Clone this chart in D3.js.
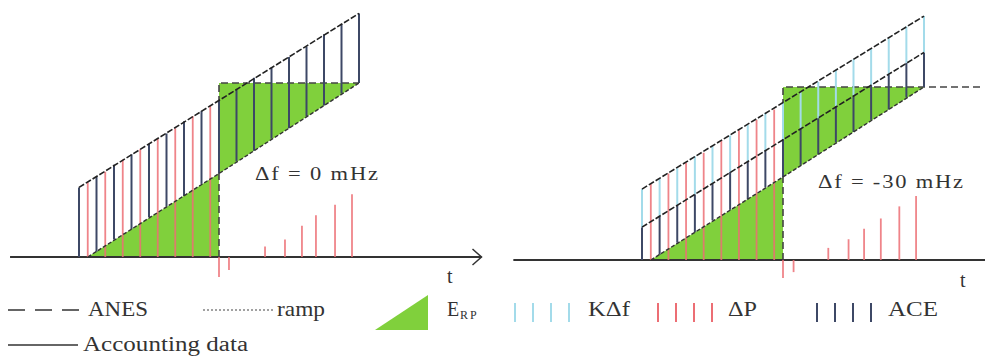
<!DOCTYPE html>
<html>
<head>
<meta charset="utf-8">
<script src="https://cdn.jsdelivr.net/npm/d3@7"></script>
<style>
  html, body { margin: 0; padding: 0; background: #fff; }
  svg { display: block; }
  text { font-family: 'Liberation Serif', Times, serif; fill: #333; }
</style>
</head>
<body>
<div id="chart"></div>
<script>
// accounting intervals (one ACE bar per slot), same for both panels
const slots = [0, 1, 2, 3, 4, 5, 6, 7, 8, 9, 10, 11, 12, 13, 14, 15, 16];
const stepT = 8;          // ANES changes here
const anesLevel = 100;

// ramp: start, step, end
const rampT = [0.5, 8, 16];
const rampV = [0, 48, 100];

// left panel, Δf = 0 mHz
const aceTopL = [40, 46, 53, 59, 65, 71, 78, 84, 90, 96, 103, 109, 115, 121, 128, 134, 140];
const aceBotL = [0, 3, 10, 16, 23, 29, 35, 42, 48, 55, 61, 68, 74, 81, 87, 94, 100];
const dpTL = [0.5, 1.5, 2.5, 3.5, 4.5, 5.5, 6.5, 7.5, 8, 8.57, 10.63, 11.77, 12.74, 13.54, 14.63, 15.6];
const dpVL = [43, 49, 56, 62, 68, 74, 81, 87, -11.5, -7.5, 6, 10, 18, 24, 30, 36];

// right panel, Δf = -30 mHz
const kdfTopR = [41, 47, 53, 60, 66, 72, 78, 85, 91, 97, 103, 110, 116, 122, 128, 135, 141];
const aceTopR = [19, 25, 32, 38, 44, 51, 57, 63, 70, 76, 82, 89, 95, 101, 107, 114, 120];
const aceBotR = [0, 3, 10, 16, 23, 29, 35, 42, 48, 55, 61, 68, 74, 81, 87, 94, 100];
const dpTR = [0.5, 1.5, 2.5, 3.5, 4.5, 5.5, 6.5, 7.5, 8, 8.6, 10.57, 11.72, 12.6, 13.55, 14.6, 15.55];
const dpVR = [44, 50, 56, 62, 69, 75, 81, 87, -10.4, -7, 7, 12, 18, 24, 31, 37];

const deltaFLabels = ["\u0394f =  0 mHz", "\u0394f =  -30 mHz"];
const legendLabels = ["ANES", "ramp", "E", "K\u0394f", "\u0394P", "ACE", "Accounting data"];

const colors = { green: "#80d03c", ace: "#3d4866", dp: "#ec6e74", kdf: "#a3dbea", line: "#222" };

const width = 985, height = 356;
const svg = d3.select("#chart").append("svg")
  .attr("width", width)
  .attr("height", height);

// the source text is stretched sideways: widen glyphs a bit, spread the rest
function fitText(parent, s, x0, y0, size, target) {
  const t = parent.append("text")
    .attr("x", 0).attr("y", 0)
    .attr("font-size", size)
    .text(s);
  const w0 = t.node().getComputedTextLength();
  const sx = Math.min(1.25, target / w0);
  t.attr("textLength", target / sx).attr("lengthAdjust", "spacing")
    .attr("transform", `translate(${x0},${y0}) scale(${sx},1)`);
  return t;
}

function drawPanel(p) {
  const x = d3.scaleLinear().domain([0, 16]).range(p.xRange);
  const y = d3.scaleLinear().domain([0, 100]).range(p.yRange);
  const g = svg.append("g");

  // E_RP : area between ramp and ANES
  const area = d3.area().x(d => x(d[0])).y0(d => y(d[1])).y1(d => y(d[2]));
  g.append("path")
    .attr("d", area([[rampT[0], 0, rampV[0]], [rampT[1], 0, rampV[1]]]))
    .attr("fill", colors.green);
  g.append("path")
    .attr("d", area([[rampT[1], rampV[1], anesLevel], [rampT[2], rampV[2], anesLevel]]))
    .attr("fill", colors.green);

  // baseline
  g.append("line")
    .attr("x1", x(p.base[0])).attr("x2", x(p.base[1]))
    .attr("y1", y(0)).attr("y2", y(0))
    .attr("stroke", "#333").attr("stroke-width", 2);
  if (p.arrow) {
    const ax = x(p.base[1]);
    g.append("path")
      .attr("d", `M${ax - 9},${y(0) - 8}L${ax},${y(0)}L${ax - 9},${y(0) + 8}`)
      .attr("fill", "none").attr("stroke", "#333").attr("stroke-width", 1.5);
  }

  // ANES
  const line = d3.line().x(d => x(d[0])).y(d => y(d[1]));
  g.append("path")
    .attr("d", line([[stepT, 0], [stepT, anesLevel], [p.anesEnd, anesLevel]]))
    .attr("fill", "none").attr("stroke", "#444").attr("stroke-width", 1.6)
    .attr("stroke-dasharray", "7,4");

  // ACE bars
  g.selectAll(".ace").data(slots).enter().append("line")
    .attr("x1", t => x(t)).attr("x2", t => x(t))
    .attr("y1", (t, i) => y(p.aceBot[i]))
    .attr("y2", (t, i) => y(p.aceTop[i]))
    .attr("stroke", colors.ace).attr("stroke-width", 2);

  // KΔf bars
  if (p.kdfTop) {
    g.selectAll(".kdf").data(slots).enter().append("line")
      .attr("x1", t => x(t)).attr("x2", t => x(t))
      .attr("y1", (t, i) => y(p.aceTop[i]))
      .attr("y2", (t, i) => y(p.kdfTop[i]))
      .attr("stroke", colors.kdf).attr("stroke-width", 2);
  }

  // ΔP bars
  g.selectAll(".dp").data(p.dpT).enter().append("line")
    .attr("x1", t => x(t)).attr("x2", t => x(t))
    .attr("y1", y(0))
    .attr("y2", (t, i) => y(p.dpV[i]))
    .attr("stroke", colors.dp).attr("stroke-width", 1.8)
    .attr("stroke-opacity", 0.85);

  // ramp
  g.append("path")
    .attr("d", line(rampT.map((t, i) => [t, rampV[i]])))
    .attr("fill", "none").attr("stroke", "#333").attr("stroke-width", 1.4)
    .attr("stroke-dasharray", "4,2");

  // upper envelopes
  const tops = p.kdfTop ? [p.aceTop, p.kdfTop] : [p.aceTop];
  tops.forEach(v => {
    g.append("path")
      .attr("d", line([[slots[0], v[0]], [slots[slots.length - 1], v[v.length - 1]]]))
      .attr("fill", "none").attr("stroke", colors.line).attr("stroke-width", 1.6)
      .attr("stroke-dasharray", "6,2");
  });

  fitText(g, p.text, p.label[0], p.label[1], 18, p.label[2]);
  g.append("text")
    .attr("x", p.tPos[0]).attr("y", p.tPos[1])
    .attr("font-size", 20)
    .text("t");
}

drawPanel({
  xRange: [79, 359], yRange: [257, 83], base: [-3.94, 23], arrow: true, anesEnd: 16,
  aceTop: aceTopL, aceBot: aceBotL, dpT: dpTL, dpV: dpVL,
  text: deltaFLabels[0], label: [255, 180, 123], tPos: [447, 283]
});
drawPanel({
  xRange: [642, 924], yRange: [260, 87], base: [-7.3, 19.5], arrow: false, anesEnd: 19.4,
  aceTop: aceTopR, aceBot: aceBotR, kdfTop: kdfTopR, dpT: dpTR, dpV: dpVR,
  text: deltaFLabels[1], label: [818, 188, 145], tPos: [960, 287]
});

// legend
const lg = svg.append("g");
const r1 = 316, r2 = 351;
lg.append("line").attr("x1", 8).attr("x2", 82).attr("y1", r1 - 6).attr("y2", r1 - 6)
  .attr("stroke", "#333").attr("stroke-width", 1.5).attr("stroke-dasharray", "17,10");
lg.append("line").attr("x1", 203).attr("x2", 273).attr("y1", r1 - 6).attr("y2", r1 - 6)
  .attr("stroke", "#444").attr("stroke-width", 1.2).attr("stroke-dasharray", "2,2");
lg.append("line").attr("x1", 8).attr("x2", 78).attr("y1", r2 - 6).attr("y2", r2 - 6)
  .attr("stroke", "#333").attr("stroke-width", 1.5);
lg.append("path").attr("d", "M375,330L428,330L428,295Z").attr("fill", colors.green);

const barGroups = [[515, colors.kdf], [658, colors.dp], [817, colors.ace]];
barGroups.forEach(([x0, c]) => {
  lg.selectAll(null).data([0, 1, 2, 3]).enter().append("line")
    .attr("x1", i => x0 + i * 18).attr("x2", i => x0 + i * 18)
    .attr("y1", 303).attr("y2", 322)
    .attr("stroke", c).attr("stroke-width", 2);
});

const legendText = [
  [legendLabels[0], 88, r1, 60],
  [legendLabels[1], 277, r1, 48],
  [legendLabels[3], 588, r1, 42],
  [legendLabels[4], 728, r1, 29],
  [legendLabels[5], 888, r1, 50],
  [legendLabels[6], 83, r2, 165]
];
legendText.forEach(([s, x0, y0, w]) => fitText(lg, s, x0, y0, 20, w));
lg.append("text").attr("x", 447).attr("y", r1)
  .attr("font-size", 20)
  .text(legendLabels[2]);
lg.append("text").attr("x", 460).attr("y", r1 + 3)
  .attr("font-size", 12)
  .attr("letter-spacing", 2)
  .text("RP");
</script>
</body>
</html>
